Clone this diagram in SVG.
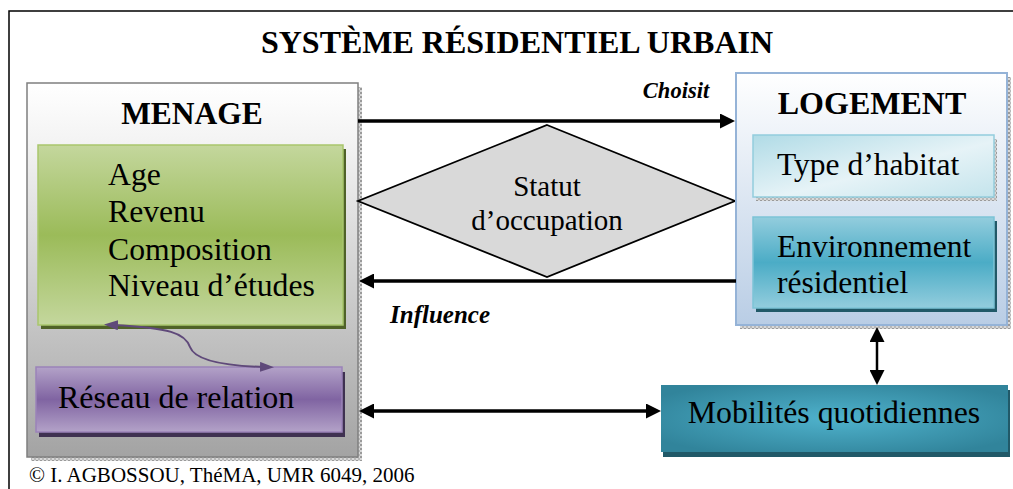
<svg xmlns="http://www.w3.org/2000/svg" width="1013" height="489" viewBox="0 0 1013 489">
<style>
text{font-family:"Liberation Serif","Times New Roman",serif;fill:#000}
.b{font-weight:bold}
.bi{font-weight:bold;font-style:italic}
.conn{fill:none;stroke:#000}
</style>
<defs>
<linearGradient id="gMen" x1="0" y1="0" x2="0" y2="1"><stop offset="0" stop-color="#ffffff"/><stop offset="0.15" stop-color="#f4f4f4"/><stop offset="1" stop-color="#a3a3a3"/></linearGradient>
<linearGradient id="gGreen" x1="0" y1="0" x2="0" y2="1"><stop offset="0" stop-color="#c4d79d"/><stop offset="0.5" stop-color="#9bbb59"/><stop offset="1" stop-color="#c4d79d"/></linearGradient>
<linearGradient id="gPurp" x1="0" y1="0" x2="0" y2="1"><stop offset="0" stop-color="#b3a2c8"/><stop offset="0.5" stop-color="#8064a2"/><stop offset="1" stop-color="#b3a2c8"/></linearGradient>
<linearGradient id="gLog" x1="0" y1="0" x2="0" y2="1"><stop offset="0" stop-color="#ffffff"/><stop offset="1" stop-color="#b9cde5"/></linearGradient>
<linearGradient id="gType" x1="0" y1="0" x2="1" y2="1"><stop offset="0" stop-color="#b0dbe6"/><stop offset="0.55" stop-color="#e6f3f7"/><stop offset="1" stop-color="#c4e4ec"/></linearGradient>
<linearGradient id="gEnv" x1="0" y1="0" x2="0" y2="1"><stop offset="0" stop-color="#93cddd"/><stop offset="0.5" stop-color="#4bacc6"/><stop offset="1" stop-color="#93cddd"/></linearGradient>
<radialGradient id="gMob" cx="0.5" cy="0.5" r="0.6"><stop offset="0" stop-color="#4fb2cc"/><stop offset="1" stop-color="#31849b"/></radialGradient>
<pattern id="dots" width="4" height="4" patternUnits="userSpaceOnUse"><rect width="4" height="4" fill="#d8d8d8"/><rect width="2" height="2" fill="#9a9a9a"/><rect x="2" y="2" width="2" height="2" fill="#b8b8b8"/></pattern>
<marker id="ah" viewBox="0 0 15 15" refX="7" refY="7.5" markerWidth="15" markerHeight="15" markerUnits="userSpaceOnUse" orient="auto-start-reverse"><path d="M0,0 L15,7.5 L0,15 z" fill="#000"/></marker>
<marker id="ahp" viewBox="0 0 14 10" refX="5" refY="5" markerWidth="14" markerHeight="10" markerUnits="userSpaceOnUse" orient="auto-start-reverse"><path d="M0,0 L14,5 L0,10 z" fill="#5f497a"/></marker>
</defs>

<rect width="1013" height="489" fill="#fff"/>
<g id="frame">
<rect x="9" y="11" width="1030" height="510" fill="none" stroke="#000" stroke-width="1.5"/>
<text class="b" x="517" y="53" font-size="32" text-anchor="middle">SYSTÈME RÉSIDENTIEL URBAIN</text>
</g>

<g id="menage">
<rect x="31" y="87" width="331" height="374" fill="url(#dots)"/>
<rect x="27" y="83" width="331" height="374" fill="url(#gMen)" stroke="#7f7f7f" stroke-width="1.5"/>
<text class="b" x="192" y="124" font-size="31.5" text-anchor="middle">MENAGE</text>
</g>

<g id="attributs">
<rect x="41" y="149" width="305" height="180" fill="#4f6228"/>
<rect x="38" y="145" width="305" height="180" fill="url(#gGreen)" stroke="#a9c66c" stroke-width="1.5"/>
<text x="108" y="185" font-size="31.7">Age</text>
<text x="108" y="222" font-size="31.7">Revenu</text>
<text x="108" y="260" font-size="31.7">Composition</text>
<text x="108" y="296" font-size="31.7">Niveau d’études</text>
</g>

<g id="reseau">
<rect x="39" y="372" width="306" height="65" fill="#3f3151"/>
<rect x="36" y="367" width="306" height="65" fill="url(#gPurp)" stroke="#9b83b9" stroke-width="1.5"/>
<text x="58" y="408" font-size="32">Réseau de relation</text>
</g>

<g id="statut">
<polygon points="547,125 735,201 547,277 358,201" fill="#d9d9d9" stroke="#000" stroke-width="1.8"/>
<text x="547" y="196" font-size="29" text-anchor="middle">Statut</text>
<text x="547" y="230" font-size="29" text-anchor="middle">d’occupation</text>
</g>

<g id="logement">
<rect x="740" y="77" width="271" height="252" fill="url(#dots)"/>
<rect x="736" y="73" width="271" height="252" fill="url(#gLog)" stroke="#95b3d7" stroke-width="2"/>
<text class="b" x="872" y="114" font-size="32" text-anchor="middle">LOGEMENT</text>
</g>

<g id="type-habitat">
<rect x="756" y="139" width="241" height="62" fill="url(#dots)"/>
<rect x="753" y="135" width="241" height="62" fill="url(#gType)" stroke="#93cddd" stroke-width="1.5"/>
<text x="777" y="175" font-size="31.5">Type d’habitat</text>
</g>

<g id="environnement">
<rect x="756" y="221" width="241" height="91" fill="#215968"/>
<rect x="753" y="217" width="241" height="91" fill="url(#gEnv)" stroke="#7cc3d6" stroke-width="1.5"/>
<text x="777" y="257" font-size="31.5">Environnement</text>
<text x="777" y="293" font-size="31.5">résidentiel</text>
</g>

<g id="mobilites">
<rect x="663" y="390" width="347" height="67" fill="#215968"/>
<rect x="661" y="385" width="347" height="67" fill="url(#gMob)"/>
<text x="834" y="423" font-size="31.8" text-anchor="middle">Mobilités quotidiennes</text>
</g>

<g id="connectors">
<line class="conn" x1="358" y1="121" x2="727" y2="121" stroke-width="3.5" marker-end="url(#ah)"/>
<text class="bi" x="676" y="98" font-size="22.5" text-anchor="middle">Choisit</text>
<line class="conn" x1="736" y1="281" x2="367" y2="281" stroke-width="3.5" marker-end="url(#ah)"/>
<text class="bi" x="440" y="323" font-size="25" text-anchor="middle">Influence</text>
<line class="conn" x1="367" y1="411" x2="653" y2="411" stroke-width="3.5" marker-start="url(#ah)" marker-end="url(#ah)"/>
<line class="conn" x1="877" y1="335" x2="877" y2="377" stroke-width="2.5" marker-start="url(#ah)" marker-end="url(#ah)"/>
<path d="M113,325 C170,328 185,333 190,347 C195,361 225,366 265,367" fill="none" stroke="#5f497a" stroke-width="2" marker-start="url(#ahp)" marker-end="url(#ahp)"/>
</g>

<text x="29" y="482" font-size="21">© I. AGBOSSOU, ThéMA, UMR 6049, 2006</text>
</svg>
